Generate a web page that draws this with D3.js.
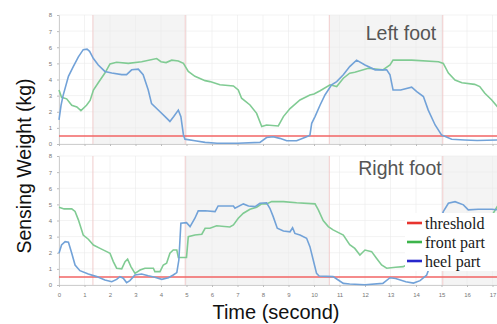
<!DOCTYPE html>
<html>
<head>
<meta charset="utf-8">
<script src="https://cdn.jsdelivr.net/npm/d3@7"></script>
<style>
  body { margin: 0; background: #fff; }
  svg { display: block; font-family: "Liberation Sans", Arial, sans-serif; }
</style>
</head>
<body>
<svg id="chart" width="497" height="324"></svg>
<script>
// tick labels
const xTicks = d3.range(0, 18);
const yTicks = d3.range(0, 9);
const threshold = 0.5;

// phase boundaries (s) and which spans are shaded per foot
const leftShade = [[1.33, 4.95], [10.6, 15.05]];
const rightShade = [[4.95, 10.6], [15.05, 17.3]];
const boundaries = [1.33, 4.95, 10.6, 15.05];

// [time (s), weight (kg)]
const leftHeel = [[0,1.5],[0.08,2.4],[0.16,3.0],[0.37,4.2],[0.56,4.8],[0.76,5.4],[0.95,5.85],[1.1,5.88],[1.2,5.75],[1.35,5.3],[1.54,4.9],[1.8,4.5],[2.07,4.4],[2.46,4.3],[2.65,4.3],[2.85,4.6],[3.11,4.64],[3.3,4.3],[3.5,3.35],[3.63,2.5],[3.83,2.2],[4.16,1.7],[4.35,1.4],[4.5,1.7],[4.68,2.1],[4.78,1.7],[4.88,0.56],[4.94,0.3],[5.33,0.2],[5.73,0.1],[6.2,0.05],[7.0,0.05],[7.88,0.1],[8.14,0.4],[8.4,0.45],[8.66,0.35],[8.93,0.2],[9.32,0.2],[9.71,0.45],[9.84,0.55],[9.91,1.28],[10.04,1.7],[10.24,2.42],[10.43,3.04],[10.69,3.67],[10.89,3.87],[11.15,4.29],[11.4,4.8],[11.67,5.2],[12.0,4.9],[12.4,4.6],[12.85,4.6],[12.98,4.29],[13.1,3.35],[13.4,3.35],[13.83,3.52],[14.03,3.25],[14.29,2.94],[14.48,2.1],[14.75,1.18],[15.0,0.56],[15.4,0.29],[15.9,0.25],[16.4,0.22],[17.2,0.25]];
const leftFront = [[0,3.35],[0.1,2.9],[0.3,2.8],[0.5,2.4],[0.7,2.3],[0.86,2.07],[1.08,2.4],[1.22,2.7],[1.35,3.35],[1.54,3.8],[1.8,4.4],[2.0,4.97],[2.26,5.07],[2.72,5.0],[3.24,5.1],[3.83,5.3],[4.0,5.1],[4.2,5.05],[4.42,5.2],[4.68,5.15],[4.88,5.0],[5.07,4.5],[5.33,4.2],[5.73,3.93],[5.92,3.87],[6.31,3.67],[6.84,3.6],[7.03,3.35],[7.16,2.84],[7.49,2.42],[7.75,1.9],[7.95,1.08],[8.14,1.18],[8.6,1.12],[8.8,1.7],[9.06,2.2],[9.45,2.73],[9.84,3.04],[10.0,3.1],[10.24,3.3],[10.63,3.67],[10.89,3.56],[11.15,4.08],[11.4,4.39],[11.6,4.45],[12.13,4.7],[12.7,4.6],[12.98,4.9],[13.1,5.2],[13.83,5.2],[14.88,5.1],[15.07,5.0],[15.27,4.4],[15.53,3.97],[15.8,3.8],[16.3,3.7],[16.5,3.56],[16.7,3.15],[16.97,2.73],[17.2,2.3]];
const rightHeel = [[0,1.97],[0.1,2.48],[0.24,2.69],[0.37,2.65],[0.5,1.97],[0.63,1.24],[0.82,0.89],[1.15,0.68],[1.48,0.52],[1.8,0.31],[2.07,0.2],[2.26,0.35],[2.39,0.52],[2.52,0.42],[2.65,0.15],[2.78,0.27],[2.98,0.62],[3.24,0.68],[3.5,0.57],[3.76,0.48],[4.03,0.35],[4.29,0.45],[4.48,0.62],[4.62,0.77],[4.7,1.55],[4.78,3.83],[5.0,3.87],[5.14,3.62],[5.33,4.14],[5.46,4.6],[5.73,4.6],[6.12,4.55],[6.24,4.9],[6.84,4.9],[6.9,4.76],[7.23,5.03],[7.43,4.9],[7.69,4.86],[7.88,5.07],[8.14,5.1],[8.27,4.76],[8.4,4.24],[8.56,3.52],[8.8,3.35],[9.06,3.3],[9.16,3.55],[9.25,3.2],[9.45,3.1],[9.71,2.9],[9.84,2.38],[9.97,1.55],[10.1,0.72],[10.2,0.56],[10.75,0.52],[10.95,0.31],[11.15,0.1],[11.4,0.06],[12.0,0.02],[12.7,0.1],[12.98,0.45],[13.2,0.4],[13.6,0.2],[13.9,0.12],[14.16,0.27],[14.42,0.62],[14.55,1.2],[14.75,2.5],[14.95,4.0],[15.07,4.55],[15.27,5.07],[15.53,5.17],[15.86,4.97],[16.05,4.66],[16.44,4.7],[16.97,4.7],[17.2,4.66]];
const rightFront = [[0,4.82],[0.2,4.72],[0.5,4.72],[0.63,4.56],[0.76,4.04],[0.95,3.1],[1.15,2.84],[1.35,2.48],[1.61,2.27],[1.87,2.07],[2.0,1.97],[2.13,1.45],[2.26,1.04],[2.46,1.0],[2.59,1.45],[2.69,1.6],[2.82,1.14],[2.98,0.72],[3.18,0.93],[3.37,1.04],[3.7,1.04],[3.76,0.83],[3.96,0.83],[4.09,1.24],[4.22,1.35],[4.35,1.97],[4.48,2.17],[4.62,2.17],[4.68,1.71],[5.0,1.71],[5.07,3.0],[5.33,3.1],[5.6,3.15],[5.73,3.52],[5.92,3.52],[6.18,3.67],[6.7,3.6],[6.84,3.73],[7.03,4.14],[7.23,4.45],[7.49,4.7],[7.75,4.82],[7.95,5.03],[8.14,5.03],[8.34,5.17],[8.8,5.17],[9.32,5.1],[10.04,5.03],[10.17,4.66],[10.36,4.0],[10.56,3.62],[10.75,3.42],[11.15,3.1],[11.4,2.5],[11.6,2.27],[11.8,1.86],[12.0,2.17],[12.26,2.07],[12.45,1.66],[12.65,1.24],[12.85,1.04],[13.2,1.1],[13.5,1.14],[13.7,1.3],[14.2,2.0],[15.0,2.8],[15.8,3.4],[16.5,3.9],[16.9,4.2],[17.03,4.45],[17.2,4.9]];

const legendItems = [
  { label: 'threshold', color: '#e8332e' },
  { label: 'front part', color: '#3cb44b' },
  { label: 'heel part', color: '#2727cc' }
];

const frontColor = '#80cb93';
const heelColor = '#72a2d8';
const redColor = '#f26464';

const svg = d3.select('#chart');

const x = d3.scaleLinear().domain([0, 17.2]).range([59, 497.6]);

const panels = [
  { top: 15, bottom: 144, shade: leftShade, front: leftFront, heel: leftHeel, title: 'Left foot', tx: 401, ty: 40, labels: false },
  { top: 156, bottom: 285, shade: rightShade, front: rightFront, heel: rightHeel, title: 'Right foot', tx: 400, ty: 175, labels: true }
];

panels.forEach((p, i) => {
  const y = d3.scaleLinear().domain([0, 8]).range([p.bottom, p.top]);
  const g = svg.append('g').attr('class', 'panel-' + i);

  // shaded phases
  g.selectAll('rect.shade')
    .data(p.shade)
    .enter().append('rect')
    .attr('class', 'shade')
    .attr('x', d => x(d[0]))
    .attr('width', d => x(d[1]) - x(d[0]))
    .attr('y', p.top)
    .attr('height', p.bottom - p.top)
    .attr('fill', '#f4f4f4');

  // faint grid
  g.append('g')
    .selectAll('line')
    .data(xTicks)
    .enter().append('line')
    .attr('x1', d => x(d)).attr('x2', d => x(d))
    .attr('y1', p.top).attr('y2', p.bottom)
    .attr('stroke', '#ebebeb').attr('stroke-width', 0.6);
  g.append('g')
    .selectAll('line')
    .data(yTicks)
    .enter().append('line')
    .attr('x1', x(0)).attr('x2', 497)
    .attr('y1', d => y(d)).attr('y2', d => y(d))
    .attr('stroke', '#ebebeb').attr('stroke-width', 0.6);

  // phase boundaries
  g.selectAll('line.bound')
    .data(boundaries)
    .enter().append('line')
    .attr('class', 'bound')
    .attr('x1', d => x(d)).attr('x2', d => x(d))
    .attr('y1', p.top).attr('y2', p.bottom)
    .attr('stroke', '#f0cccc').attr('stroke-width', 1);

  // axes
  const yAxis = d3.axisLeft(y).tickValues(yTicks).tickSize(2).tickPadding(5);
  const ya = g.append('g')
    .attr('transform', `translate(${x(0)},0)`)
    .call(yAxis);
  ya.select('.domain').attr('stroke', '#cfcfcf');
  ya.selectAll('.tick line').attr('stroke', '#bdbdbd');
  ya.selectAll('text').attr('font-size', 6).attr('fill', '#777');

  const xAxis = d3.axisBottom(x).tickValues(xTicks).tickSize(2).tickPadding(6)
    .tickFormat(p.labels ? d3.format('d') : '');
  const xa = g.append('g')
    .attr('transform', `translate(0,${p.bottom})`)
    .call(xAxis);
  xa.select('.domain').attr('stroke', '#cfcfcf');
  xa.selectAll('.tick line').attr('stroke', '#bdbdbd');
  xa.selectAll('text').attr('font-size', 6).attr('fill', '#777');

  // threshold
  g.append('line')
    .attr('x1', x(0)).attr('x2', 497)
    .attr('y1', y(threshold)).attr('y2', y(threshold))
    .attr('stroke', redColor).attr('stroke-width', 1.6);

  const line = d3.line().x(d => x(d[0])).y(d => y(d[1]));

  g.append('path')
    .datum(p.front)
    .attr('d', line)
    .attr('fill', 'none')
    .attr('stroke', frontColor)
    .attr('stroke-width', 1.6);

  g.append('path')
    .datum(p.heel)
    .attr('d', line)
    .attr('fill', 'none')
    .attr('stroke', heelColor)
    .attr('stroke-width', 1.6);

  g.append('text')
    .attr('x', p.tx).attr('y', p.ty)
    .attr('text-anchor', 'middle')
    .attr('font-size', 19.5)
    .attr('fill', '#555')
    .text(p.title);
});

// legend (white box hides curves behind it)
const legend = svg.append('g').attr('class', 'legend');
legend.append('rect')
  .attr('x', 405).attr('y', 213)
  .attr('width', 92).attr('height', 58)
  .attr('fill', '#fff');
legendItems.forEach((d, i) => {
  const ly = 223 + i * 19;
  legend.append('line')
    .attr('x1', 407).attr('x2', 422)
    .attr('y1', ly).attr('y2', ly)
    .attr('stroke', d.color).attr('stroke-width', 2.6);
  legend.append('text')
    .attr('x', 425).attr('y', ly + 6)
    .attr('font-family', '"Liberation Serif", "Times New Roman", serif')
    .attr('font-size', 16)
    .attr('fill', '#1a1a1a')
    .text(d.label);
});

// axis titles
svg.append('text')
  .attr('transform', 'translate(31,166) rotate(-90)')
  .attr('text-anchor', 'middle')
  .attr('font-size', 19.5)
  .attr('fill', '#111')
  .text('Sensing Weight (kg)');

svg.append('text')
  .attr('x', 276).attr('y', 319)
  .attr('text-anchor', 'middle')
  .attr('font-size', 20)
  .attr('fill', '#111')
  .text('Time (second)');
</script>
</body>
</html>
